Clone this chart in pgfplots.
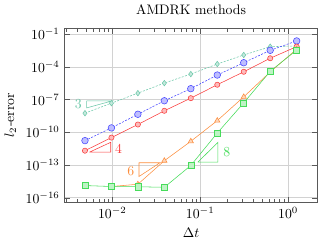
\documentclass[border=0pt]{standalone}
\usepackage{pgfplots}
\pgfplotsset{compat=1.18}
\definecolor{cteal}{RGB}{110,200,170}
\definecolor{cblue}{RGB}{70,70,255}
\definecolor{cred}{RGB}{250,60,60}
\definecolor{corange}{RGB}{252,141,60}
\definecolor{cgreen}{RGB}{70,220,90}
\begin{document}
\begin{tikzpicture}
\begin{axis}[
  scale only axis, width=184pt, height=127pt,
  xmode=log, ymode=log,
  xmin=0.00286, xmax=2.17, ymin=3.5e-17, ymax=3.8e-1,
  ytick={1e-16,1e-13,1e-10,1e-7,1e-4,1e-1},
  yminorticks=false,
  grid=major, major grid style={gray!35},
  title={AMDRK methods},
  xlabel={$\Delta t$}, ylabel={$l_2$-error},
  tick style={gray!70!black},
  axis line style={gray!70!black},
]
\addplot[cteal, dash pattern=on 1.5pt off 1pt, mark=diamond*, mark size=2pt, mark options={solid, fill=cteal!40}] coordinates {
(0.0048828125,5.62e-9)(0.009765625,4.68e-8)(0.01953125,3.89e-7)(0.0390625,3.24e-6)(0.078125,2.19e-5)(0.15625,1.82e-4)(0.3125,1.23e-3)(0.625,7.08e-3)(1.25,8.32e-3)};
\addplot[cblue, dash pattern=on 1.5pt off 1pt, mark=*, mark size=2.4pt, mark options={solid, fill=cblue!35}] coordinates {
(0.0048828125,1.70e-11)(0.009765625,2.51e-10)(0.01953125,4.47e-9)(0.0390625,7.76e-8)(0.078125,1.0e-6)(0.15625,1.78e-5)(0.3125,2.40e-4)(0.625,3.31e-3)(1.25,2.40e-2)};
\addplot[cred, mark=*, mark size=1.9pt, mark options={fill=cred!35}] coordinates {
(0.0048828125,2.04e-12)(0.009765625,3.24e-11)(0.01953125,5.13e-10)(0.0390625,9.33e-9)(0.078125,1.35e-7)(0.15625,2.29e-6)(0.3125,3.55e-5)(0.625,6.17e-4)(1.25,7.24e-3)};
\addplot[corange, mark=triangle*, mark size=2.2pt, mark options={fill=corange!35}] coordinates {
(0.009765625,1.05e-15)(0.01953125,1.70e-15)(0.0390625,2.45e-13)(0.078125,1.48e-11)(0.15625,1.17e-9)(0.3125,1.78e-7)(0.625,3.39e-5)(1.25,4.17e-3)};
\addplot[cgreen, mark=square*, mark size=2.2pt, mark options={fill=cgreen!35}] coordinates {
(0.0048828125,1.29e-15)(0.009765625,1.05e-15)(0.01953125,1.0e-15)(0.0390625,8.91e-16)(0.078125,8.91e-14)(0.15625,8.51e-11)(0.3125,5.01e-8)(0.625,3.89e-5)(1.25,3.55e-3)};
% slope triangles
\addplot[cteal, no marks] coordinates {(0.0051,7.6e-8)(0.01,7.6e-8)(0.0051,1.72e-8)(0.0051,7.6e-8)};
\addplot[cred, no marks] coordinates {(0.0055,1.5e-12)(0.0096,1.5e-12)(0.0096,1.2e-11)(0.0055,1.5e-12)};
\addplot[corange, no marks] coordinates {(0.0201,1.6e-13)(0.0349,1.6e-13)(0.0201,8.7e-15)(0.0201,1.6e-13)};
\addplot[cgreen, no marks] coordinates {(0.094,1.8e-13)(0.159,1.8e-13)(0.159,1.2e-11)(0.094,1.8e-13)};
\node[cteal] at (axis cs:0.0041,4.2e-8) {3};
\node[cred] at (axis cs:0.0118,3.3e-12) {4};
\node[corange] at (axis cs:0.0162,2.5e-14) {6};
\node[cgreen] at (axis cs:0.2,1.4e-12) {8};
\end{axis}
\end{tikzpicture}
\end{document}
